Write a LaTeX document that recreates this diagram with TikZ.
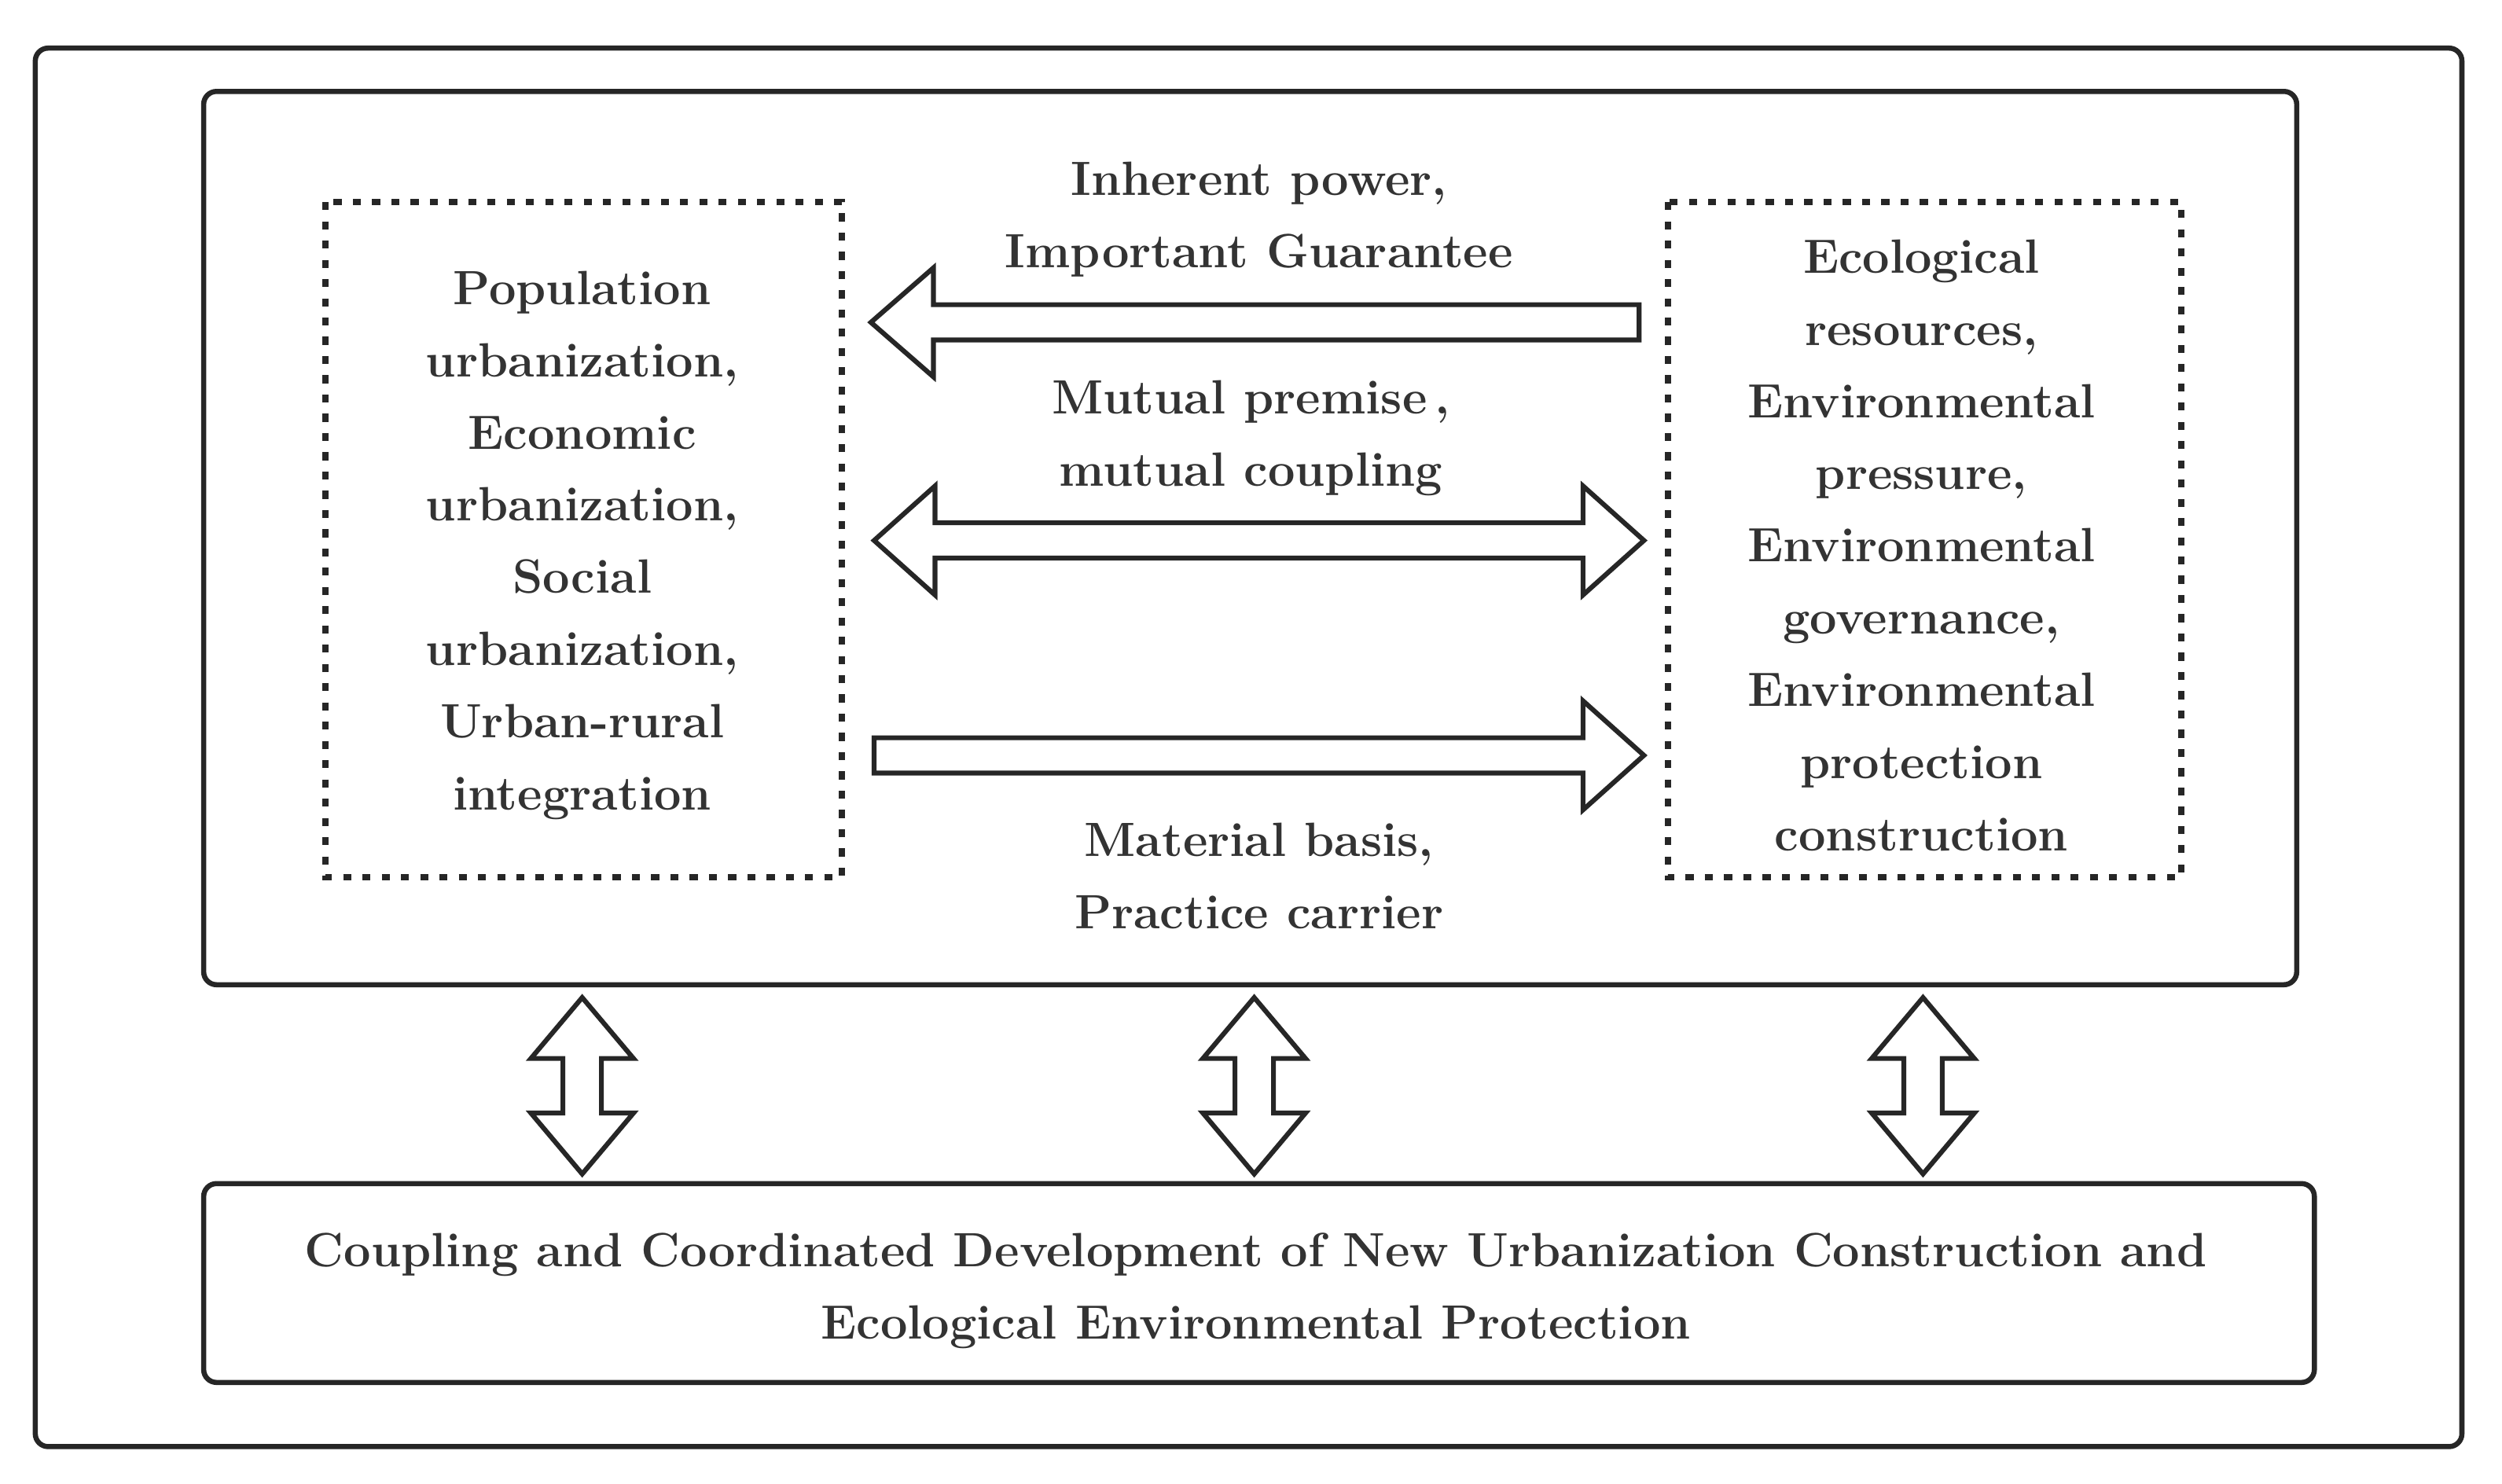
\documentclass[tikz,border=0pt]{standalone}
\begin{document}
\begin{tikzpicture}[x=0.5pt,y=-0.5pt,
  box/.style={draw=black!85,line width=1.6pt,rounded corners=4pt},
  dotbox/.style={draw=black!85,line width=2pt,dash pattern=on 2.5pt off 3.5pt},
  arr/.style={draw=black!85,line width=1.5pt,fill=white,line join=miter},
  lbl/.style={font=\bfseries\fontsize{15}{22.5}\selectfont,align=center,text=black!80,inner sep=0pt}]
\useasboundingbox (0,0) rectangle (1560,925);
\draw[box] (22,30) rectangle (1535,902);
\draw[box] (127,57) rectangle (1432,614);
\draw[box] (127,738) rectangle (1443,862);
\draw[dotbox] (203,126) rectangle (525,547);
\draw[dotbox] (1040,126) rectangle (1360,547);
\draw[arr] (1022,190)--(582,190)--(582,167)--(543,201)--(582,235)--(582,212)--(1022,212)--cycle;
\draw[arr] (545,337)--(583,303)--(583,326)--(987,326)--(987,303)--(1025,337)--(987,371)--(987,348)--(583,348)--(583,371)--cycle;
\draw[arr] (545,460)--(987,460)--(987,437)--(1025,471)--(987,505)--(987,482)--(545,482)--cycle;
\foreach \x in {363,782,1199}{
\draw[arr] (\x,622)--(\x+32,660)--(\x+12,660)--(\x+12,694)--(\x+32,694)--(\x,732)--(\x-32,694)--(\x-12,694)--(\x-12,660)--(\x-32,660)--cycle;}
\node[lbl] (t1) at (785,137) {Inherent power,\\Important Guarantee};
\node[lbl] (t2) at (780,273) {Mutual premise\,,\\mutual coupling};
\node[lbl] (t3) at (785,546) {Material basis,\\Practice carrier};
\node[lbl] (L) at (363,340) {Population\\urbanization,\\Economic\\urbanization,\\Social\\urbanization,\\Urban-rural\\integration};
\node[lbl] (R) at (1198,340) {Ecological\\resources,\\Environmental\\pressure,\\Environmental\\governance,\\Environmental\\protection\\construction};
\node[lbl] (B) at (783,805) {Coupling and Coordinated Development of New Urbanization Construction and\\Ecological Environmental Protection};
\end{tikzpicture}
\end{document}
